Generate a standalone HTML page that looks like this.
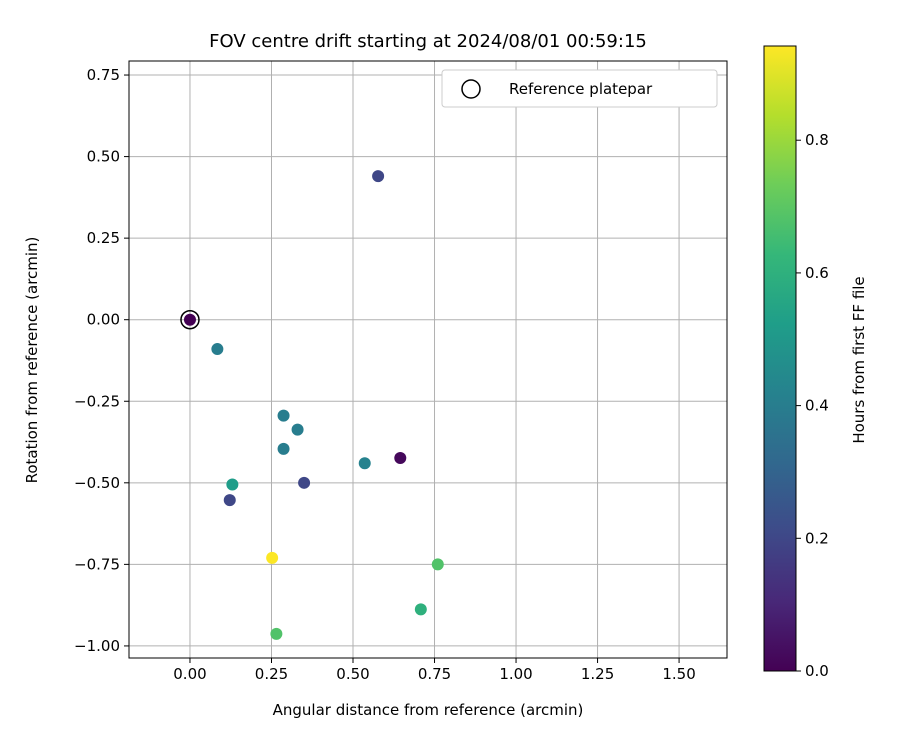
<!DOCTYPE html>
<html><head><meta charset="utf-8"><style>body{margin:0;background:#fff}svg{font-family:"DejaVu Sans","Liberation Sans",sans-serif}</style></head>
<body>
<svg id="c" width="900" height="750" viewBox="0 0 900 750"></svg>
<script>
const xs=[0,0.084,0.577,0.287,0.33,0.287,0.536,0.645,0.35,0.13,0.122,0.252,0.76,0.708,0.265];
const ys=[0,-0.09,0.44,-0.294,-0.337,-0.396,-0.44,-0.424,-0.5,-0.505,-0.553,-0.73,-0.75,-0.888,-0.963];
const hours=[0.0,0.4,0.2,0.4,0.4,0.4,0.42,0.02,0.2,0.52,0.2,0.94,0.68,0.6,0.68];
const xTicks=[0,0.25,0.5,0.75,1.0,1.25,1.5];
const xTickLabels=["0.00","0.25","0.50","0.75","1.00","1.25","1.50"];
const yTicks=[0.75,0.5,0.25,0,-0.25,-0.5,-0.75,-1.0];
const yTickLabels=["0.75","0.50","0.25","0.00","\u22120.25","\u22120.50","\u22120.75","\u22121.00"];
const cTicks=[0,0.2,0.4,0.6,0.8];
const cTickLabels=["0.0","0.2","0.4","0.6","0.8"];
const L=129,R=727,T=61,B=658,xmin=-0.187,xmax=1.647,ymin=-1.037,ymax=0.793;
const CT=46,CB=671,CL=764,CR=796,cmax=0.942;
const sx=v=>L+(v-xmin)/(xmax-xmin)*(R-L);
const sy=v=>B-(v-ymin)/(ymax-ymin)*(B-T);
const sc=v=>CB-v/cmax*(CB-CT);
const vir=[[68,1,84],[72,40,120],[62,74,137],[49,104,142],[38,130,142],[31,158,137],[53,183,121],[109,205,89],[180,222,44],[253,231,37]];
function cmap(t){t=Math.max(0,Math.min(1,t))*9;const i=Math.min(8,Math.floor(t)),f=t-i;const a=vir[i],b=vir[i+1];return `rgb(${a.map((v,k)=>Math.round(v+(b[k]-v)*f)).join(',')})`;}
const svg=document.getElementById('c');const NS='http://www.w3.org/2000/svg';
function el(tag,at,name,txt){const e=document.createElementNS(NS,tag);for(const k in at)e.setAttribute(k,at[k]);


if(txt!==undefined)e.textContent=txt;svg.appendChild(e);return e;}
xTicks.forEach((v,i)=>{el('line',{x1:sx(v),x2:sx(v),y1:T,y2:B,stroke:'#b0b0b0','stroke-width':1},'x-grid-line');
el('line',{x1:sx(v),x2:sx(v),y1:B,y2:B+5,stroke:'#000'},'x-tick');
el('text',{x:sx(v),y:B+21,'text-anchor':'middle','font-size':15},'x-tick-label',xTickLabels[i]);});
yTicks.forEach((v,i)=>{el('line',{x1:L,x2:R,y1:sy(v),y2:sy(v),stroke:'#b0b0b0','stroke-width':1},'y-grid-line');
el('line',{x1:L-5,x2:L,y1:sy(v),y2:sy(v),stroke:'#000'},'y-tick');
el('text',{x:L-9,y:sy(v)+5,'text-anchor':'end','font-size':15},'y-tick-label',yTickLabels[i]);});
xs.forEach((v,i)=>{el('circle',{cx:sx(v),cy:sy(ys[i]),r:6,fill:cmap(hours[i]/cmax)},'data-point');});
el('circle',{cx:sx(0),cy:sy(0),r:9,fill:'none',stroke:'#000','stroke-width':1.5},'reference-platepar-marker');
el('rect',{x:L,y:T,width:R-L,height:B-T,fill:'none',stroke:'#000','stroke-width':1},'plot-frame');
el('rect',{x:442,y:70,width:275,height:37,rx:3,fill:'#fff',stroke:'#ccc'},'legend-box');
el('circle',{cx:471,cy:89,r:9,fill:'none',stroke:'#000','stroke-width':1.5},'legend-marker');
el('text',{x:509,y:94,'font-size':15},'legend-label','Reference platepar');
el('text',{x:428,y:47,'text-anchor':'middle','font-size':18},'chart-title','FOV centre drift starting at 2024/08/01 00:59:15');
el('text',{x:428,y:715,'text-anchor':'middle','font-size':15},'x-axis-title','Angular distance from reference (arcmin)');
el('text',{x:37,y:360,'text-anchor':'middle','font-size':15,transform:'rotate(-90 37 360)'},'y-axis-title','Rotation from reference (arcmin)');
const defs=el('defs',{},'defs');const g=document.createElementNS(NS,'linearGradient');g.setAttribute('id','vg');g.setAttribute('x1','0');g.setAttribute('y1','1');g.setAttribute('x2','0');g.setAttribute('y2','0');
vir.forEach((c,i)=>{const s=document.createElementNS(NS,'stop');s.setAttribute('offset',i/9);s.setAttribute('stop-color',`rgb(${c})`);g.appendChild(s);});defs.appendChild(g);
el('rect',{x:CL,y:CT,width:CR-CL,height:CB-CT,fill:'url(#vg)',stroke:'#000'},'colorbar');
cTicks.forEach((v,i)=>{el('line',{x1:CR,x2:CR+5,y1:sc(v),y2:sc(v),stroke:'#000'},'colorbar-tick');
el('text',{x:CR+9,y:sc(v)+5,'font-size':15},'colorbar-tick-label',cTickLabels[i]);});
el('text',{x:864,y:360,'text-anchor':'middle','font-size':15,transform:'rotate(-90 864 360)'},'colorbar-title','Hours from first FF file');
</script>
</body></html>
